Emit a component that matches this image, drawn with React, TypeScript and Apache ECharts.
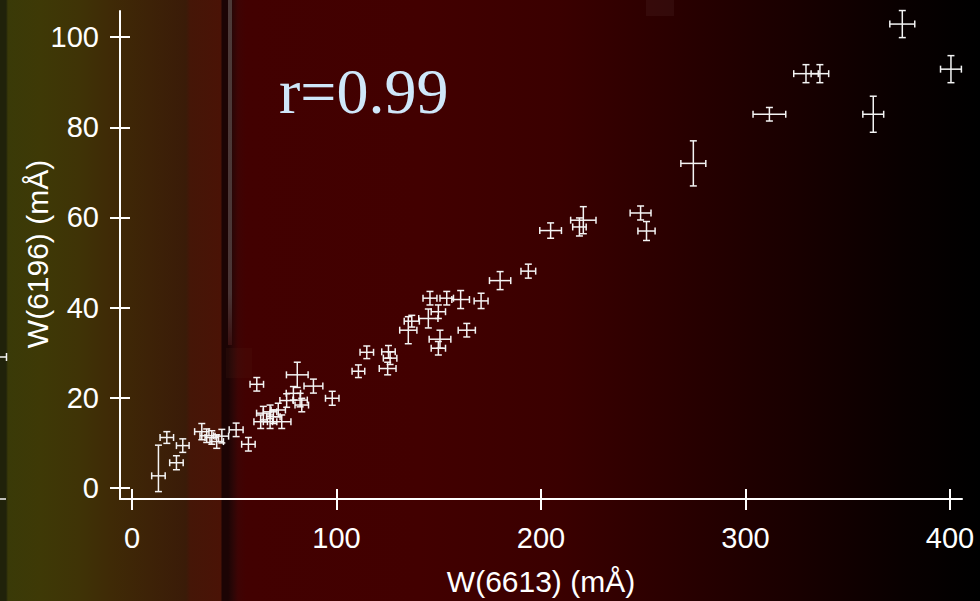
import React, { useEffect, useRef } from "react";
import * as echarts from "echarts";

const xTicks = [0, 100, 200, 300, 400];
const yTicks = [0, 20, 40, 60, 80, 100];

const w6613 = [
  12.9, 17.0, 24.8, 21.7, 34.1, 36.5, 39.0, 41.4, 43.9, 50.9, 56.9, 61.0,
  80.8, 88.7, 97.9, 78.9, 82.2, 83.0, 75.6, 67.5, 71.5, 69.1, 73.2, 62.9,
  67.5, 64.2, 110.7, 114.8, 125.4, 126.2, 125.0, 135.1, 136.8, 144.9, 145.7,
  149.8, 153.9, 160.7, 150.6, 149.8, 163.7, 170.7, 180.0, 193.8, 204.7,
  220.7, 218.8, 248.7, 251.6, 274.5, 311.7, 329.6, 336.4, 362.5, 376.7, 400.5,
];
const w6196 = [
  2.7, 11.2, 9.4, 5.6, 12.5, 11.6, 11.2, 10.3, 11.5, 12.9, 9.7, 23.0,
  25.1, 22.6, 19.9, 21.0, 19.5, 18.4, 19.4, 16.9, 17.3, 15.8, 14.7, 14.7,
  14.7, 16.6, 25.9, 30.1, 30.2, 28.8, 26.5, 35.0, 37.0, 37.6, 42.1,
  39.1, 42.1, 41.8, 33.0, 31.0, 35.0, 41.5, 46.0, 48.1, 57.1,
  59.4, 57.9, 61.0, 57.0, 72.0, 82.9, 91.9, 91.9, 82.9, 102.9, 92.9,
];
const errX = [
  3.3, 3.3, 3.1, 3.3, 3.5, 3.3, 3.3, 3.3, 3.3, 3.4, 3.3, 3.3,
  5.3, 4.6, 3.3, 3.5, 3.5, 3.3, 3.3, 3.3, 3.5, 3.3, 4.5, 3.3,
  3.3, 3.3, 3.1, 3.3, 3.3, 3.3, 4.1, 4.2, 3.7, 4.7, 3.4,
  3.5, 3.3, 4.3, 5.3, 3.5, 4.2, 3.4, 5.2, 3.6, 5.3,
  6.2, 3.3, 5.1, 4.2, 6.1, 8.0, 6.0, 4.3, 5.1, 6.1, 5.1,
];
const errYUp = [
  6.8, 1.3, 1.5, 1.55, 1.8, 1.5, 1.5, 1.5, 1.5, 1.5, 1.5, 1.5,
  2.8, 1.55, 1.55, 1.5, 1.5, 1.5, 1.5, 1.5, 1.5, 1.5, 1.5, 1.5,
  1.5, 1.5, 1.4, 1.4, 1.4, 1.4, 1.4, 3.0, 1.3, 2.1, 1.5,
  1.5, 1.5, 2.0, 2.0, 1.5, 1.5, 1.7, 2.0, 1.55, 1.7,
  3.0, 2.0, 1.55, 2.1, 5.0, 1.5, 2.0, 2.0, 4.0, 3.0, 3.0,
];
const errYDown = [
  3.5, 1.3, 1.5, 1.55, 1.8, 1.5, 1.5, 1.5, 1.5, 1.5, 1.5, 1.5,
  2.8, 1.55, 1.55, 1.5, 1.5, 1.5, 1.5, 1.5, 1.5, 1.5, 1.5, 1.5,
  1.5, 1.5, 1.4, 1.4, 1.4, 1.4, 1.4, 3.0, 1.3, 2.1, 1.5,
  1.5, 1.5, 2.0, 2.0, 1.5, 1.5, 1.7, 2.0, 1.55, 1.7,
  3.0, 2.0, 1.55, 2.1, 5.0, 1.5, 2.0, 2.0, 4.0, 3.0, 3.0,
];

const FF = "'Liberation Sans', Arial, Helvetica, sans-serif";

export default function App() {
  const ref = useRef<HTMLDivElement>(null);

  useEffect(() => {
    const chart = echarts.init(ref.current!, null, { renderer: "svg" });
    const data = w6613.map((x, i) => [x, w6196[i], errX[i], errYUp[i], errYDown[i]]);
    const CAP = 3.5;
    const lineStyle = { stroke: "#f4f4f4", lineWidth: 1.5, fill: null };

    const renderItem = (_params: any, api: any) => {
      const x = api.value(0);
      const y = api.value(1);
      const ex = api.value(2);
      const eu = api.value(3);
      const ed = api.value(4);
      const c = api.coord([x, y]);
      const l = api.coord([x - ex, y]);
      const r = api.coord([x + ex, y]);
      const t = api.coord([x, y + eu]);
      const b = api.coord([x, y - ed]);
      const ln = (x1: number, y1: number, x2: number, y2: number) => ({
        type: "line",
        shape: { x1, y1, x2, y2 },
        style: lineStyle,
      });
      return {
        type: "group",
        children: [
          ln(l[0], c[1], r[0], c[1]),
          ln(l[0], c[1] - CAP, l[0], c[1] + CAP),
          ln(r[0], c[1] - CAP, r[0], c[1] + CAP),
          ln(c[0], t[1], c[0], b[1]),
          ln(c[0] - CAP, t[1], c[0] + CAP, t[1]),
          ln(c[0] - CAP, b[1], c[0] + CAP, b[1]),
        ],
      };
    };

    const W = 980;
    const st = (px: number, color: string) => ({ offset: px / W, color });
    const bgStops = [
      st(0, "#20220a"),
      st(6, "#20220a"),
      st(8, "#3a3a08"),
      st(40, "#3e3906"),
      st(80, "#3f3306"),
      st(110, "#3f2a06"),
      st(150, "#3d2207"),
      st(186, "#3a1b08"),
      st(190, "#451607"),
      st(221, "#4a1306"),
      st(222, "#1c0404"),
      st(228, "#1c0404"),
      st(233, "#2c0606"),
      st(238, "#3e0404"),
      st(246, "#420101"),
      st(420, "#420000"),
      st(560, "#3a0000"),
      st(680, "#290000"),
      st(800, "#180000"),
      st(900, "#090000"),
      st(980, "#000000"),
    ];

    const axisColor = "#ffffff";
    const tickStyle = { color: axisColor, width: 2 };

    chart.setOption({
      animation: false,
      backgroundColor: "#400000",
      grid: {
        left: 120,
        right: 18,
        top: 11,
        bottom: 102,
        containLabel: false,
        outerBoundsMode: "none",
      },
      xAxis: [
        {
          type: "value",
          min: -5.9,
          max: 405.9,
          position: "bottom",
          axisLine: { show: true, onZero: false, lineStyle: { color: axisColor, width: 2 } },
          axisTick: { show: true, inside: false, length: 11, customValues: xTicks, lineStyle: tickStyle },
          axisLabel: {
            show: true,
            customValues: xTicks,
            color: "#ffffff",
            fontSize: 29,
            fontFamily: FF,
            margin: 24,
          },
          splitLine: { show: false },
          name: "W(6613) (mÅ)",
          nameLocation: "middle",
          nameGap: 67,
          nameTextStyle: { color: "#ffffff", fontSize: 30, fontFamily: FF },
        },
        {
          type: "value",
          min: -5.9,
          max: 405.9,
          position: "bottom",
          axisLine: { show: false, onZero: false },
          axisTick: { show: true, inside: true, length: 10, customValues: xTicks, lineStyle: tickStyle },
          axisLabel: { show: false },
          splitLine: { show: false },
        },
      ],
      yAxis: [
        {
          type: "value",
          min: -2.44,
          max: 105.8,
          position: "left",
          axisLine: { show: true, onZero: false, lineStyle: { color: axisColor, width: 2 } },
          axisTick: { show: true, inside: false, length: 10, customValues: yTicks, lineStyle: tickStyle },
          axisLabel: {
            show: true,
            customValues: yTicks,
            color: "#ffffff",
            fontSize: 29,
            fontFamily: FF,
            margin: 21,
          },
          splitLine: { show: false },
        },
        {
          type: "value",
          min: -2.44,
          max: 105.8,
          position: "left",
          axisLine: { show: false, onZero: false },
          axisTick: { show: true, inside: true, length: 10, customValues: yTicks, lineStyle: tickStyle },
          axisLabel: { show: false },
          splitLine: { show: false },
        },
      ],
      graphic: [
        {
          type: "rect",
          z: -100,
          silent: true,
          shape: { x: 0, y: 0, width: 980, height: 601 },
          style: {
            fill: new echarts.graphic.LinearGradient(0, 0, 1, 0, bgStops),
          },
        },
        {
          type: "rect",
          z: -90,
          silent: true,
          shape: { x: 228, y: 0, width: 4, height: 345 },
          style: {
            fill: new echarts.graphic.LinearGradient(0, 0, 0, 1, [
              { offset: 0, color: "#4d3a38" },
              { offset: 0.85, color: "#4a3535" },
              { offset: 1, color: "#3a1010" },
            ]),
          },
        },
        {
          type: "rect",
          z: -90,
          silent: true,
          shape: { x: 226, y: 348, width: 26, height: 30 },
          style: { fill: "rgba(90,40,30,0.15)" },
        },
        {
          type: "rect",
          z: -90,
          silent: true,
          shape: { x: 646, y: 0, width: 28, height: 16 },
          style: { fill: "rgba(90,50,50,0.2)" },
        },
        {
          type: "line",
          z: 5,
          silent: true,
          shape: { x1: 0, y1: 357, x2: 7, y2: 357 },
          style: { stroke: "#f4f4f4", lineWidth: 1.5 },
        },
        {
          type: "line",
          z: 5,
          silent: true,
          shape: { x1: 6.5, y1: 353, x2: 6.5, y2: 361 },
          style: { stroke: "#f4f4f4", lineWidth: 1.5 },
        },
        {
          type: "line",
          z: 5,
          silent: true,
          shape: { x1: 0, y1: 499, x2: 6, y2: 499 },
          style: { stroke: "#f4f4f4", lineWidth: 1.5 },
        },
        {
          type: "text",
          z: 10,
          silent: true,
          x: 37,
          y: 254,
          rotation: Math.PI / 2,
          style: {
            text: "W(6196) (mÅ)",
            fill: "#ffffff",
            font: "30px 'Liberation Sans', Arial, Helvetica, sans-serif",
            textAlign: "center",
            verticalAlign: "middle",
          },
        },
        {
          type: "text",
          z: 10,
          silent: true,
          x: 279,
          y: 91,
          style: {
            text: "r=0.99",
            fill: "#cfe7fa",
            font: "64px 'Liberation Serif', 'Times New Roman', serif",
            textAlign: "left",
            verticalAlign: "middle",
          },
        },
      ],
      series: [
        {
          type: "custom",
          xAxisIndex: 0,
          yAxisIndex: 0,
          clip: false,
          renderItem,
          encode: { x: 0, y: 1 },
          data,
        },
      ],
    });

    return () => {
      chart.dispose();
    };
  }, []);

  return (
    <div
      ref={ref}
      style={{ position: "fixed", left: 0, top: 0, width: 980, height: 601 }}
    />
  );
}
